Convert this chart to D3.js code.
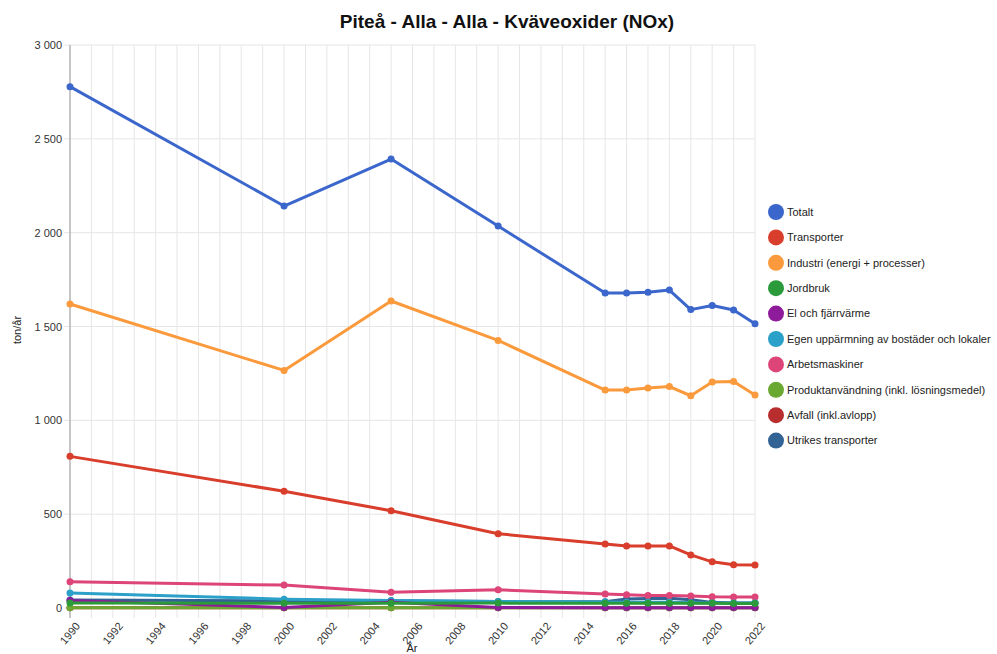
<!DOCTYPE html>
<html>
<head>
<meta charset="utf-8">
<script src="https://cdn.jsdelivr.net/npm/d3@7"></script>
<style>
  body { margin: 0; background: #fff; }
  svg { font-family: Arial, "Liberation Sans", sans-serif; }
</style>
</head>
<body>
<svg id="chart" width="997" height="654"></svg>
<script>
'use strict';

const years = [1990, 2000, 2005, 2010, 2015, 2016, 2017, 2018, 2019, 2020, 2021, 2022];
const seriesNames = [
    'Totalt', 'Transporter', 'Industri (energi + processer)', 'Jordbruk', 'El och fjärrvärme',
    'Egen uppärmning av bostäder och lokaler', 'Arbetsmaskiner',
    'Produktanvändning (inkl. lösningsmedel)', 'Avfall (inkl.avlopp)', 'Utrikes transporter'
];
const seriesColors = ['#3b66cc', '#d93d2b', '#fb9a3c', '#2a9a3a', '#8e1b9a',
    '#2ba0c8', '#dd4477', '#6aa832', '#b82e2e', '#316395'];

const totalt = [2778, 2142, 2392, 2035, 1678, 1678, 1683, 1694, 1590, 1612, 1588, 1515];
const transporter = [808, 622, 518, 396, 341, 331, 331, 331, 283, 246, 231, 229];
const industri = [1620, 1266, 1636, 1426, 1161, 1162, 1172, 1180, 1131, 1204, 1207, 1135];
const jordbruk = [27, 25, 25, 26, 25, 25, 25, 25, 25, 25, 24, 24];
const elFjarrvarme = [40, 3, 30, 3, 2, 2, 2, 2, 2, 2, 2, 2];
const egenUppvarmning = [80, 47, 40, 35, 32, 31, 30, 30, 28, 27, 26, 26];
const arbetsmaskiner = [140, 122, 84, 97, 74, 70, 66, 66, 64, 60, 59, 59];
const produktanvandning = [1, 1, 1, 1, 1, 1, 1, 1, 1, 1, 1, 1];
const avfall = [1, 1, 1, 1, 1, 1, 1, 1, 1, 1, 1, 1];
const utrikes = [42, 38, 38, 34, 33, 48, 50, 52, 44, 30, 26, 26];

const seriesValues = [totalt, transporter, industri, jordbruk, elFjarrvarme,
    egenUppvarmning, arbetsmaskiner, produktanvandning, avfall, utrikes];

const yTicks = [0, 500, 1000, 1500, 2000, 2500, 3000];
const xTicks = d3.range(1990, 2023, 2);

const margin = { top: 45, left: 70, right: 242, bottom: 46 };
const width = 997 - margin.left - margin.right;
const height = 654 - margin.top - margin.bottom;

const svg = d3.select('#chart');
const chart = svg.append('g')
    .attr('transform', `translate(${margin.left}, ${margin.top})`);

const xScale = d3.scaleLinear().domain([1990, 2022]).range([0, width]);
const yScale = d3.scaleLinear().domain([0, 3000]).range([height, 0]);

// grid
chart.append('g')
    .selectAll('line')
    .data(d3.range(1990, 2023))
    .join('line')
    .attr('x1', d => xScale(d)).attr('x2', d => xScale(d))
    .attr('y1', 0).attr('y2', height + 10)
    .attr('stroke', '#e6e6e6');

chart.append('g')
    .selectAll('line')
    .data(yTicks)
    .join('line')
    .attr('x1', -6).attr('x2', width)
    .attr('y1', d => yScale(d)).attr('y2', d => yScale(d))
    .attr('stroke', '#e6e6e6');

// axes
const yAxis = d3.axisLeft(yScale)
    .tickValues(yTicks)
    .tickSize(0)
    .tickPadding(8)
    .tickFormat(d => d3.format(',')(d).replace(/,/g, ' '));

chart.append('g')
    .call(yAxis)
    .call(g => g.select('.domain').remove())
    .call(g => g.selectAll('text').attr('font-size', 11).attr('fill', '#333').attr('font-family', 'Arial, "Liberation Sans", sans-serif'));

chart.append('line')
    .attr('x1', 0).attr('x2', 0)
    .attr('y1', 0).attr('y2', height + 10)
    .attr('stroke', '#999');

const xAxis = d3.axisBottom(xScale)
    .tickValues(xTicks)
    .tickSize(0)
    .tickFormat(d3.format('d'));

chart.append('g')
    .attr('transform', `translate(0, ${height + 10})`)
    .call(xAxis)
    .call(g => g.select('.domain').remove())
    .call(g => g.selectAll('text')
        .attr('font-size', 11)
        .attr('fill', '#333')
        .attr('font-family', 'Arial, "Liberation Sans", sans-serif')
        .attr('text-anchor', 'end')
        .attr('dy', '0.35em')
        .attr('transform', 'translate(5, 4) rotate(-50)'));

// lines, drawn last series first so Totalt ends up on top
const line = d3.line()
    .x((d, i) => xScale(years[i]))
    .y(d => yScale(d));

d3.range(seriesValues.length).reverse().forEach(s => {
    const values = seriesValues[s];
    const g = chart.append('g');
    g.append('path')
        .datum(values)
        .attr('fill', 'none')
        .attr('stroke', seriesColors[s])
        .attr('stroke-width', 3)
        .attr('stroke-linejoin', 'round')
        .attr('d', line);
    g.selectAll('circle')
        .data(values)
        .join('circle')
        .attr('cx', (d, i) => xScale(years[i]))
        .attr('cy', d => yScale(d))
        .attr('r', 3.5)
        .attr('fill', seriesColors[s]);
});

// title and axis labels
svg.append('text')
    .attr('x', 507).attr('y', 28)
    .attr('text-anchor', 'middle')
    .attr('font-size', 19)
    .attr('font-weight', 'bold')
    .attr('fill', '#111')
    .text('Piteå - Alla - Alla - Kväveoxider (NOx)');

svg.append('text')
    .attr('transform', 'translate(21, 330) rotate(-90)')
    .attr('text-anchor', 'middle')
    .attr('font-size', 11)
    .attr('fill', '#222')
    .text('ton/år');

svg.append('text')
    .attr('x', 412).attr('y', 652)
    .attr('text-anchor', 'middle')
    .attr('font-size', 11)
    .attr('fill', '#222')
    .text('År');

// legend
const legend = svg.append('g')
    .attr('transform', 'translate(776, 212)');

const item = legend.selectAll('g')
    .data(seriesNames)
    .join('g')
    .attr('transform', (d, i) => `translate(0, ${i * 25.4})`);

item.append('circle')
    .attr('r', 8)
    .attr('fill', (d, i) => seriesColors[i]);

item.append('text')
    .attr('x', 11)
    .attr('dy', '0.35em')
    .attr('font-size', 11)
    .attr('fill', '#222')
    .text(d => d);
</script>
</body>
</html>
